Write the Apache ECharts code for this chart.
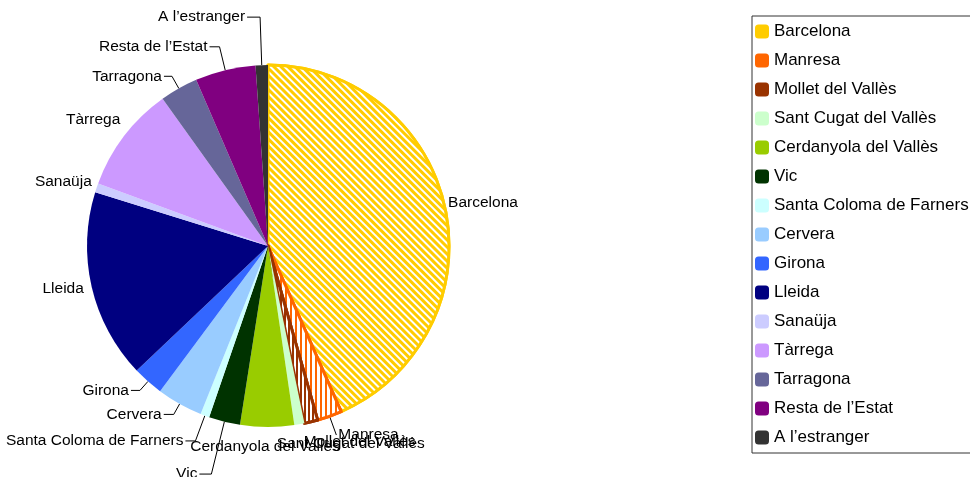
<!DOCTYPE html>
<html>
<head>
<meta charset="utf-8">
<script src="https://cdn.jsdelivr.net/npm/echarts@6/dist/echarts.min.js"></script>
<style>
  html, body { margin: 0; padding: 0; background: #fff; }
  #chart { width: 970px; height: 477px; }
</style>
</head>
<body>
<div id="chart"></div>
<script>
  // share of each origin (percent)
  var places = ['Barcelona', 'Manresa', 'Mollet del Vallès', 'Sant Cugat del Vallès', 'Cerdanyola del Vallès',
    'Vic', 'Santa Coloma de Farners', 'Cervera', 'Girona', 'Lleida', 'Sanaüja', 'Tàrrega', 'Tarragona',
    'Resta de l’Estat', 'A l’estranger']
  var shares = [43.4, 2.2, 1.2, 0.9, 4.8, 2.8, 0.8, 4.1, 2.75, 16.9, 0.8, 9.5, 3.4, 5.4, 1.1]
  var colors = ['#FFCC00', '#FF6600', '#993300', '#CCFFCC', '#99CC00', '#003300', '#CCFFFF', '#99CCFF',
    '#3366FF', '#000080', '#CCCCFF', '#CC99FF', '#666699', '#800080', '#333333']

  // leader line lengths per slice [length, length2, showLine]
  var lines = [
    [1, 0, false], [20, 0, true], [20, 0, false], [20, 0, false], [20, 0, false],
    [54, 12, true], [27, 10, true], [12, 10, true], [12, 9, true], [6, 0, false],
    [3, 0, false], [16, 0, false], [14, 8, true], [24, 10, true], [48, 13, true]
  ]
  // nudges [dx, dy] of a few labels that sit off their default spot
  var nudges = { 0: [0, -6], 2: [-14, 0], 3: [-28, 0], 10: [0, -5], 11: [11, -7] }

  // hatched slices
  var hatch = {
    0: { decal: { symbol: 'rect', symbolSize: 1, color: '#ffffff', dashArrayX: [1, 0], dashArrayY: [2, 2.5], rotation: Math.PI / 4 }, border: '#FFCC00' },
    1: { decal: { symbol: 'rect', symbolSize: 1, color: '#ffffff', dashArrayX: [1, 0], dashArrayY: [3, 1.8], rotation: Math.PI / 2 }, border: '#FF6600' },
    2: { decal: { symbol: 'rect', symbolSize: 1, color: '#ffffff', dashArrayX: [1, 0], dashArrayY: [2, 2], rotation: Math.PI / 2 }, border: '#993300' }
  }

  var data = places.map(function(name, i) {
    var item = {
      name: name,
      value: shares[i],
      itemStyle: { color: colors[i] },
      labelLine: { show: lines[i][2], length: lines[i][0], length2: lines[i][1] }
    }
    if (hatch[i]) {
      item.itemStyle.decal = hatch[i].decal
      item.itemStyle.borderColor = hatch[i].border
      item.itemStyle.borderWidth = 3
    }
    return item
  })

  var legendData = places.map(function(name) {
    return { name: name, itemStyle: { decal: 'none', borderWidth: 0 } }
  })

  var chart = echarts.init(document.getElementById('chart'))
  chart.setOption({
    animation: false,
    aria: { enabled: false },
    legend: {
      orient: 'vertical',
      left: 752,
      top: 16,
      padding: [7, 40, 7, 3],
      borderColor: '#333',
      borderWidth: 1,
      itemWidth: 14,
      itemHeight: 14,
      itemGap: 12,
      icon: 'roundRect',
      textStyle: { fontFamily: 'Liberation Sans, Arial', fontSize: 17, color: '#000' },
      data: legendData
    },
    series: [{
      type: 'pie',
      center: [268, 246],
      radius: 181,
      startAngle: 90,
      clockwise: true,
      avoidLabelOverlap: false,
      label: {
        show: true,
        position: 'outside',
        fontFamily: 'Liberation Sans, Arial',
        fontSize: 15.5,
        color: '#000',
        distanceToLabelLine: 2
      },
      labelLine: { lineStyle: { color: '#000', width: 1 }, smooth: false },
      labelLayout: function(p) {
        var opt = { hideOverlap: false, moveOverlap: null }
        if (p.dataIndex === 4) opt.align = 'center'
        var n = nudges[p.dataIndex]
        if (n) { opt.dx = n[0]; opt.dy = n[1] }
        return opt
      },
      emphasis: { disabled: true },
      data: data
    }]
  })
</script>
</body>
</html>
